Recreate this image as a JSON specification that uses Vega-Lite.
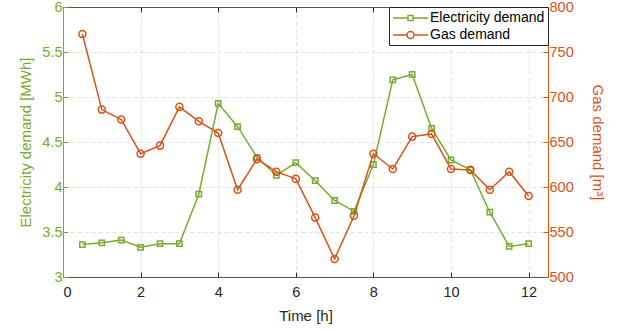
{
  "$schema": "https://vega.github.io/schema/vega-lite/v6.json",
  "width": 485,
  "height": 270,
  "autosize": {"type": "none"},
  "padding": {"left": 63, "top": 7, "right": 73, "bottom": 55},
  "background": "white",
  "config": {
    "font": "Liberation Sans",
    "view": {"stroke": "#555555", "strokeWidth": 1},
    "axis": {
      "labelFont": "Liberation Sans",
      "titleFont": "Liberation Sans",
      "labelFontSize": 14.5,
      "titleFontSize": 15,
      "titleFontWeight": "normal",
      "tickSize": -5,
      "labelPadding": 6,
      "gridDash": [4, 3],
      "gridColor": "#dcdcdc",
      "gridWidth": 0.8,
      "domainWidth": 1
    }
  },
  "data": {
    "values": [
      {"t": 0.5, "series": "Electricity demand", "value": 3.36},
      {"t": 1.0, "series": "Electricity demand", "value": 3.38},
      {"t": 1.5, "series": "Electricity demand", "value": 3.41},
      {"t": 2.0, "series": "Electricity demand", "value": 3.33},
      {"t": 2.5, "series": "Electricity demand", "value": 3.37},
      {"t": 3.0, "series": "Electricity demand", "value": 3.37},
      {"t": 3.5, "series": "Electricity demand", "value": 3.92},
      {"t": 4.0, "series": "Electricity demand", "value": 4.93},
      {"t": 4.5, "series": "Electricity demand", "value": 4.67},
      {"t": 5.0, "series": "Electricity demand", "value": 4.33},
      {"t": 5.5, "series": "Electricity demand", "value": 4.13},
      {"t": 6.0, "series": "Electricity demand", "value": 4.27},
      {"t": 6.5, "series": "Electricity demand", "value": 4.07},
      {"t": 7.0, "series": "Electricity demand", "value": 3.85},
      {"t": 7.5, "series": "Electricity demand", "value": 3.73},
      {"t": 8.0, "series": "Electricity demand", "value": 4.25},
      {"t": 8.5, "series": "Electricity demand", "value": 5.19},
      {"t": 9.0, "series": "Electricity demand", "value": 5.25},
      {"t": 9.5, "series": "Electricity demand", "value": 4.65},
      {"t": 10.0, "series": "Electricity demand", "value": 4.30},
      {"t": 10.5, "series": "Electricity demand", "value": 4.19},
      {"t": 11.0, "series": "Electricity demand", "value": 3.72},
      {"t": 11.5, "series": "Electricity demand", "value": 3.34},
      {"t": 12.0, "series": "Electricity demand", "value": 3.37},
      {"t": 0.5, "series": "Gas demand", "value": 770},
      {"t": 1.0, "series": "Gas demand", "value": 686},
      {"t": 1.5, "series": "Gas demand", "value": 675},
      {"t": 2.0, "series": "Gas demand", "value": 637},
      {"t": 2.5, "series": "Gas demand", "value": 646},
      {"t": 3.0, "series": "Gas demand", "value": 689},
      {"t": 3.5, "series": "Gas demand", "value": 673},
      {"t": 4.0, "series": "Gas demand", "value": 660},
      {"t": 4.5, "series": "Gas demand", "value": 597},
      {"t": 5.0, "series": "Gas demand", "value": 631},
      {"t": 5.5, "series": "Gas demand", "value": 617},
      {"t": 6.0, "series": "Gas demand", "value": 609},
      {"t": 6.5, "series": "Gas demand", "value": 566},
      {"t": 7.0, "series": "Gas demand", "value": 520},
      {"t": 7.5, "series": "Gas demand", "value": 568},
      {"t": 8.0, "series": "Gas demand", "value": 637},
      {"t": 8.5, "series": "Gas demand", "value": 620},
      {"t": 9.0, "series": "Gas demand", "value": 656},
      {"t": 9.5, "series": "Gas demand", "value": 659},
      {"t": 10.0, "series": "Gas demand", "value": 620},
      {"t": 10.5, "series": "Gas demand", "value": 619},
      {"t": 11.0, "series": "Gas demand", "value": 597},
      {"t": 11.5, "series": "Gas demand", "value": 617},
      {"t": 12.0, "series": "Gas demand", "value": 590}
    ]
  },
  "encoding": {
    "color": {
      "field": "series",
      "type": "nominal",
      "scale": {"domain": ["Electricity demand", "Gas demand"], "range": ["#77AC30", "#D95319"]},
      "legend": {
        "title": null,
        "orient": "top-right",
        "offset": 0,
        "fillColor": "white",
        "strokeColor": "#262626",
        "padding": 3,
        "rowPadding": 2,
        "labelFontSize": 14,
        "labelFont": "Liberation Sans",
        "labelColor": "#000000",
        "labelOffset": 22,
        "symbolSize": 196,
        "symbolStrokeWidth": 1.5,
        "encode": {
          "symbols": {
            "update": {
              "shape": {"signal": "datum.value === 'Electricity demand' ? 'M-1,0H1.14M1.86,0H4M1.14,-0.36H1.86V0.36H1.14Z' : 'M-1,0H1M2,0H4M2,0A0.5,0.5 0 1,1 1,0A0.5,0.5 0 1,1 2,0'"},
              "fill": {"value": "transparent"},
              "strokeWidth": {"value": 1.5}
            }
          }
        }
      }
    }
  },
  "layer": [
    {
      "transform": [{"filter": "datum.series === 'Electricity demand'"}],
      "encoding": {
        "x": {
          "field": "t",
          "type": "quantitative",
          "scale": {"domain": [0, 12.5], "nice": false},
          "axis": {
            "title": "Time [h]",
            "orient": "bottom",
            "values": [0, 2, 4, 6, 8, 10, 12],
            "gridOpacity": {"condition": {"test": "datum.value === 0", "value": 0}, "value": 1},
            "domainColor": "#555555",
            "tickColor": "#262626",
            "labelColor": "#262626",
            "titleColor": "#262626",
            "titlePadding": 10,
            "labelPadding": 13
          }
        },
        "y": {
          "field": "value",
          "type": "quantitative",
          "scale": {"domain": [3, 6], "nice": false, "zero": false},
          "axis": {
            "orient": "left",
            "title": "Electricity demand [MWh]",
            "values": [3, 3.5, 4, 4.5, 5, 5.5, 6],
            "format": "~g",
            "grid": true,
            "gridOpacity": {"condition": {"test": "datum.value === 6 || datum.value === 3", "value": 0}, "value": 1},
            "domainColor": "#77AC30",
            "tickColor": "#77AC30",
            "labelColor": "#77AC30",
            "titleColor": "#77AC30",
            "titlePadding": 8
          }
        }
      },
      "layer": [
        {"mark": {"type": "line", "strokeWidth": 1.5}},
        {"mark": {"type": "point", "shape": "square", "filled": false, "size": 28, "strokeWidth": 1.5, "opacity": 1}}
      ]
    },
    {
      "transform": [{"filter": "datum.series === 'Gas demand'"}],
      "encoding": {
        "x": {
          "field": "t",
          "type": "quantitative",
          "scale": {"domain": [0, 12.5], "nice": false},
          "axis": {
            "title": null,
            "orient": "top",
            "values": [0, 2, 4, 6, 8, 10, 12],
            "labels": false,
            "grid": false,
            "domainColor": "#555555",
            "tickColor": "#262626"
          }
        },
        "y": {
          "field": "value",
          "type": "quantitative",
          "scale": {"domain": [500, 800], "nice": false, "zero": false},
          "axis": {
            "orient": "right",
            "title": "Gas demand [m³]",
            "values": [500, 550, 600, 650, 700, 750, 800],
            "grid": false,
            "domainColor": "#D95319",
            "tickColor": "#D95319",
            "labelColor": "#D95319",
            "titleColor": "#D95319",
            "titlePadding": 16
          }
        }
      },
      "layer": [
        {"mark": {"type": "line", "strokeWidth": 1.5}},
        {"mark": {"type": "point", "shape": "circle", "filled": false, "size": 50, "strokeWidth": 1.5, "opacity": 1}}
      ]
    }
  ],
  "resolve": {"scale": {"y": "independent"}}
}
